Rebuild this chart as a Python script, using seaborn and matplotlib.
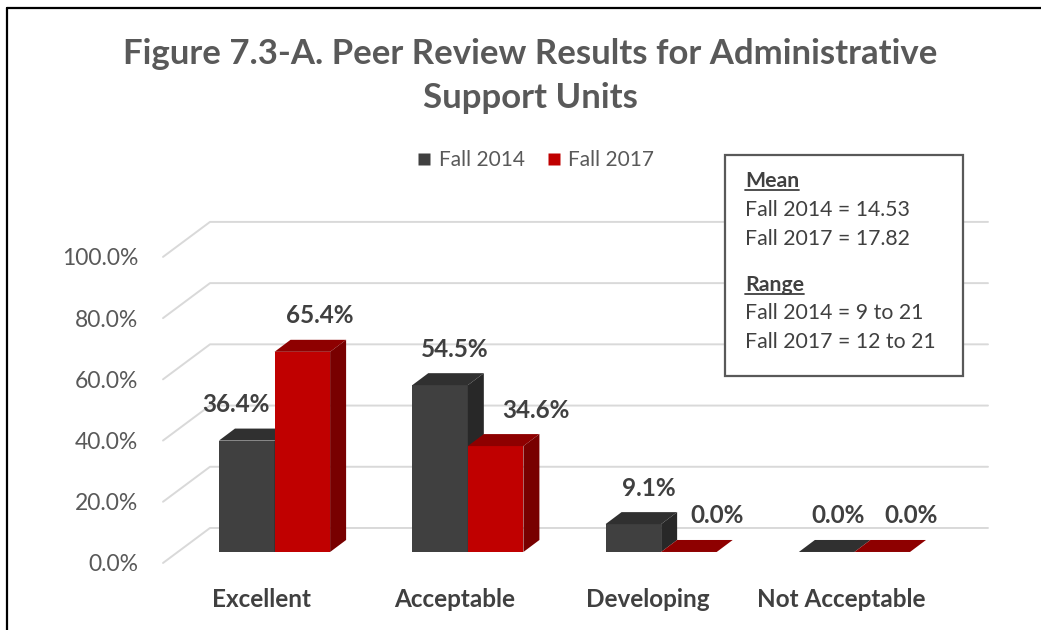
"Peer review results chart - 3D style grouped bars"
import numpy as np
import pandas as pd
import matplotlib
matplotlib.use("Agg")
from matplotlib import pyplot as plt
from matplotlib import transforms
from matplotlib.patches import Polygon, Rectangle
from matplotlib.lines import Line2D
import seaborn as sns

categories = ["Excellent", "Acceptable", "Developing", "Not Acceptable"]
series = ["Fall 2014", "Fall 2017"]
fall_2014 = [36.4, 54.5, 9.1, 0.0]
fall_2017 = [65.4, 34.6, 0.0, 0.0]
y_ticks = [0, 20, 40, 60, 80, 100]
mean_lines = ["Fall 2014 = 14.53", "Fall 2017 = 17.82"]
range_lines = ["Fall 2014 = 9 to 21", "Fall 2017 = 12 to 21"]
title = "Figure 7.3-A. Peer Review Results for Administrative\nSupport Units"

front_colors = ["#404040", "#C00000"]
top_colors = ["#303030", "#8E0000"]
side_colors = ["#282828", "#780000"]
# label nudges in pixels (Excel moved some labels around)
label_nudge = [[-11, 15, 15, 11], [17, 40, 28, 29]]

W, H = 1041, 630


def fx(px):
    return px / W


def fy(py):
    return 1 - py / H


sns.set_style("white")
plt.rcParams["font.family"] = ["Lato", "DejaVu Sans"]

fig = plt.figure(figsize=(W / 100, H / 100), dpi=100)
ax = fig.add_axes([fx(163), fy(563), (988 - 163) / W, (563 - 215) / H])

df = pd.DataFrame({
    "category": categories * 2,
    "period": [series[0]] * len(categories) + [series[1]] * len(categories),
    "share": fall_2014 + fall_2017,
})
sns.barplot(data=df, x="category", y="share", hue="period", order=categories,
            hue_order=series, palette=front_colors, width=0.575, gap=0,
            saturation=1, errorbar=None, legend=False, linewidth=0, ax=ax)

ax.set_xlim(-0.577, 3.691)
ax.set_ylim(-3.6, 110.1)
sns.despine(ax=ax, left=True, bottom=True)
ax.set_xlabel("")
ax.set_ylabel("")

# pixels per data unit
p0 = ax.transData.transform((0, 0))
ux = ax.transData.transform((1, 0))[0] - p0[0]
uy = ax.transData.transform((0, 1))[1] - p0[1]

# back wall gridlines with the diagonal floor part
xl, xr = ax.get_xlim()
for v in y_ticks:
    ax.plot([xl, xl + 47 / ux, xr], [v - 11 / uy, v + 24 / uy, v + 24 / uy],
            color="#d9d9d9", lw=1.4, zorder=0, clip_on=False)

# 3D faces on the bars
dx, dy = 16 / ux, 12 / uy
for k, cont in enumerate(ax.containers):
    for j, bar in enumerate(cont.patches):
        x, w, h = bar.get_x(), bar.get_width(), bar.get_height()
        z = 2 + 2 * k
        bar.set_zorder(z)
        bar.set_edgecolor("none")
        top = Polygon([(x, h), (x + w, h), (x + w + dx, h + dy), (x + dx, h + dy)],
                      closed=True, facecolor=top_colors[k], edgecolor="none", zorder=z)
        side = Polygon([(x + w, 0), (x + w, h), (x + w + dx, h + dy), (x + w + dx, dy)],
                       closed=True, facecolor=side_colors[k], edgecolor="none", zorder=z)
        ax.add_patch(top)
        ax.add_patch(side)
        ax.text(x + w / 2 + label_nudge[k][j] / ux, h + 36 / uy, "{:.1f}%".format(h),
                ha="center", va="center", fontsize=17.5, fontweight="bold",
                color="#404040", zorder=10)

# ticks
ax.set_yticks(y_ticks)
ax.set_yticklabels(["{:.1f}%".format(v) for v in y_ticks])
ax.tick_params(axis="y", length=0, pad=18, labelsize=16.5, labelcolor="#595959")
ax.tick_params(axis="x", length=0, pad=18, labelsize=17.5, labelcolor="#404040")
ax.set_xticks(range(len(categories)))
ax.set_xticklabels(categories, fontweight="bold")
shift_y = transforms.ScaledTranslation(0, -11 / 100, fig.dpi_scale_trans)
for lab in ax.get_yticklabels():
    lab.set_transform(lab.get_transform() + shift_y)
shift_x = transforms.ScaledTranslation(-13 / 100, 0, fig.dpi_scale_trans)
for lab in ax.get_xticklabels():
    lab.set_transform(lab.get_transform() + shift_x)
ax.grid(False)

# title
fig.text(fx(530), fy(76), title, ha="center", va="center", fontsize=25,
         fontweight="bold", color="#595959", linespacing=1.5)

# legend
handles = [Line2D([], [], marker="s", linestyle="none", markersize=9,
                  markerfacecolor=c, markeredgecolor="none") for c in front_colors]
fig.legend(handles, series, loc="center", bbox_to_anchor=(fx(535), fy(160)),
           ncol=2, frameon=False, fontsize=15, labelcolor="#595959",
           handlelength=0.8, handletextpad=0.3, columnspacing=1.0)

# stats text box
fig.add_artist(Rectangle((fx(725), fy(376)), (963 - 725) / W, (376 - 155) / H,
                         transform=fig.transFigure, facecolor="white",
                         edgecolor="#595959", lw=1.6, zorder=5))
box_rows = [("Mean", True, 181)] + [(t, False, y) for t, y in zip(mean_lines, [210, 239])] \
    + [("Range", True, 285)] + [(t, False, y) for t, y in zip(range_lines, [313, 342])]
heads = []
for txt, bold, ypx in box_rows:
    t = fig.text(fx(745), fy(ypx), txt, ha="left", va="center", fontsize=15.3,
                 fontweight="bold" if bold else "normal", color="#404040", zorder=6)
    if bold:
        heads.append(t)

# outer frame lines (top and left)
fig.add_artist(Line2D([fx(7), 1], [fy(8), fy(8)], transform=fig.transFigure,
                      color="black", lw=1.6))
fig.add_artist(Line2D([fx(7), fx(7)], [0, fy(8)], transform=fig.transFigure,
                      color="black", lw=1.6))

fig.canvas.draw()
renderer = fig.canvas.get_renderer()
for t in heads:
    bb = t.get_window_extent(renderer).transformed(fig.transFigure.inverted())
    fig.add_artist(Line2D([bb.x0, bb.x1], [bb.y0 + 0.002, bb.y0 + 0.002],
                          transform=fig.transFigure, color="#404040", lw=1.3, zorder=6))

fig.savefig("out.png", dpi=100)
